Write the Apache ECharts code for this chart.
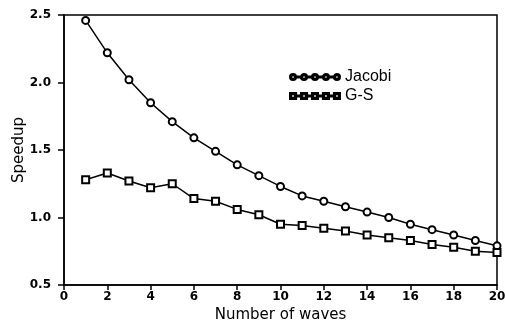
<!DOCTYPE html>
<html>
<head>
<meta charset="utf-8">
<script src="https://cdn.jsdelivr.net/npm/echarts@6/dist/echarts.min.js"></script>
<style>
  html, body { margin: 0; padding: 0; background: #fff; }
  #chart { width: 505px; height: 325px; }
</style>
</head>
<body>
<div id="chart"></div>
<script>
var waves = [1,2,3,4,5,6,7,8,9,10,11,12,13,14,15,16,17,18,19,20];
var jacobi = [2.46,2.22,2.02,1.85,1.71,1.59,1.49,1.39,1.31,1.23,1.16,1.12,1.08,1.04,1.00,0.95,0.91,0.87,0.83,0.79];
var gs = [1.28,1.33,1.27,1.22,1.25,1.14,1.12,1.06,1.02,0.95,0.94,0.92,0.90,0.87,0.85,0.83,0.80,0.78,0.75,0.74];

// legend icons: line with five hollow markers (ring = outer cw + inner ccw)
function ringIcon(shape) {
  var p = '', cy = 3.5, r = 3, ri = 1.8;
  for (var i = 0; i < 5; i++) {
    var cx = 3.5 + i * 10.75;
    if (shape === 'circle') {
      p += 'M' + (cx - r) + ',' + cy + 'A' + r + ',' + r + ' 0 1 1 ' + (cx + r) + ',' + cy +
           'A' + r + ',' + r + ' 0 1 1 ' + (cx - r) + ',' + cy + 'Z';
      p += 'M' + (cx - ri) + ',' + cy + 'A' + ri + ',' + ri + ' 0 1 0 ' + (cx + ri) + ',' + cy +
           'A' + ri + ',' + ri + ' 0 1 0 ' + (cx - ri) + ',' + cy + 'Z';
    } else {
      p += 'M' + (cx - r) + ',' + (cy - r) + 'L' + (cx + r) + ',' + (cy - r) + 'L' + (cx + r) + ',' + (cy + r) +
           'L' + (cx - r) + ',' + (cy + r) + 'Z';
      p += 'M' + (cx - ri) + ',' + (cy - ri) + 'L' + (cx - ri) + ',' + (cy + ri) + 'L' + (cx + ri) + ',' + (cy + ri) +
           'L' + (cx + ri) + ',' + (cy - ri) + 'Z';
    }
    if (i < 4) {
      p += 'M' + (cx + r) + ',' + (cy - 0.6) + 'L' + (cx + 10.75 - r) + ',' + (cy - 0.6) +
           'L' + (cx + 10.75 - r) + ',' + (cy + 0.6) + 'L' + (cx + r) + ',' + (cy + 0.6) + 'Z';
    }
  }
  return 'path://' + p;
}

var myChart = echarts.init(document.getElementById('chart'));
var tickFont = { color: '#000', fontFamily: 'DejaVu Sans', fontWeight: 'bold', fontSize: 12 };

var option = {
  animation: false,
  grid: {
    left: 64, right: 8, top: 15, bottom: 40,
    outerBoundsMode: 'none', containLabel: false,
    show: true, borderColor: '#000', borderWidth: 1.5
  },
  legend: {
    left: 284, top: 64, orient: 'vertical', itemGap: 3,
    itemWidth: 50, itemHeight: 7,
    textStyle: { color: '#000', fontFamily: 'Liberation Sans', fontSize: 16 },
    data: [
      { name: 'Jacobi', icon: ringIcon('circle') },
      { name: 'G-S', icon: ringIcon('rect') }
    ]
  },
  xAxis: {
    type: 'value', min: 0, max: 20, interval: 2,
    name: 'Number of waves', nameLocation: 'center', nameGap: 22,
    nameTextStyle: { color: '#000', fontFamily: 'DejaVu Sans', fontSize: 15 },
    axisLine: { lineStyle: { color: '#000', width: 1.5 } },
    axisTick: { length: 5, lineStyle: { color: '#000', width: 1.5 } },
    axisLabel: Object.assign({ margin: 6 }, tickFont),
    splitLine: { show: false }
  },
  yAxis: {
    type: 'value', min: 0.5, max: 2.5, interval: 0.5,
    name: 'Speedup', nameLocation: 'center', nameGap: 37, nameMoveOverlap: false,
    nameTextStyle: { color: '#000', fontFamily: 'DejaVu Sans', fontSize: 15 },
    axisLine: { lineStyle: { color: '#000', width: 1.5 } },
    axisTick: { length: 6, lineStyle: { color: '#000', width: 1.5 } },
    axisLabel: Object.assign({ margin: 13, formatter: function (v) { return v.toFixed(1); } }, tickFont),
    splitLine: { show: false }
  },
  series: [
    {
      name: 'Jacobi', type: 'line',
      data: waves.map(function (w, i) { return [w, jacobi[i]]; }),
      symbol: 'emptyCircle', symbolSize: 7,
      lineStyle: { color: '#000', width: 1.5 },
      itemStyle: { color: '#000', borderColor: '#000', borderWidth: 1.8 }
    },
    {
      name: 'G-S', type: 'line',
      data: waves.map(function (w, i) { return [w, gs[i]]; }),
      symbol: 'emptyRect', symbolSize: 7,
      lineStyle: { color: '#000', width: 1.5 },
      itemStyle: { color: '#000', borderColor: '#000', borderWidth: 1.8 }
    }
  ]
};
myChart.setOption(option);
</script>
</body>
</html>
